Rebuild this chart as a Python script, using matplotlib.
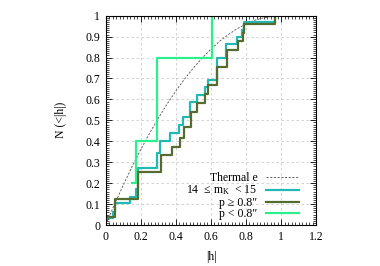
import matplotlib
matplotlib.use("Agg")
import matplotlib.pyplot as plt
from matplotlib.ticker import MultipleLocator, AutoMinorLocator

plt.rcParams['font.family'] = ['Liberation Serif', 'DejaVu Serif']
plt.rcParams['mathtext.default'] = 'regular'
plt.rcParams['font.size'] = 8.5

# Thermal curve
thermal_x = [0.0, 0.05, 0.1, 0.15, 0.2, 0.25, 0.3, 0.35, 0.4, 0.45, 0.5, 0.55, 0.6, 0.65, 0.7, 0.75, 0.8, 0.85, 0.9, 0.95, 1.0]
thermal_y = [0.0, 0.098, 0.19, 0.278, 0.36, 0.438, 0.51, 0.578, 0.64, 0.698, 0.75, 0.798, 0.84, 0.878, 0.91, 0.938, 0.96, 0.978, 0.99, 0.997, 1.0]

# 14 <= mK < 15 (all)
all_x = [0.0, 0.044, 0.055, 0.139, 0.173, 0.186, 0.29, 0.31, 0.367, 0.42, 0.443, 0.482, 0.52, 0.567, 0.586, 0.634, 0.687, 0.748, 0.777, 0.79, 0.967]
all_y = [0.033, 0.064, 0.104, 0.135, 0.17, 0.274, 0.346, 0.40, 0.44, 0.478, 0.518, 0.59, 0.622, 0.657, 0.694, 0.80, 0.865, 0.90, 0.933, 0.97, 1.0]

# p >= 0.8"
wide_x = [0.0, 0.051, 0.186, 0.314, 0.377, 0.425, 0.449, 0.486, 0.52, 0.567, 0.586, 0.634, 0.691, 0.752, 0.783, 0.79, 0.967]
wide_y = [0.04, 0.123, 0.252, 0.335, 0.375, 0.415, 0.466, 0.542, 0.582, 0.625, 0.67, 0.753, 0.837, 0.877, 0.917, 0.962, 1.0]

# p < 0.8"
close_x = [0.15, 0.171, 0.29, 0.606]
close_y = [0.2, 0.4, 0.8, 1.0]

labels = ["Thermal e", "14  \u2264 m$_K$  < 15", "p \u2265 0.8\u2033", "p < 0.8\u2033"]

fig = plt.figure(figsize=(3.8, 2.66), dpi=100)
ax = fig.add_axes([0.278, 0.154, 0.554, 0.787])

ax.plot(thermal_x, thermal_y, color='#666666', lw=0.7, dashes=(2.2, 1.6), label=labels[0])
ax.plot(all_x, all_y, drawstyle='steps-post', color='#22b8b4', lw=1.6, label=labels[1])
ax.plot(wide_x, wide_y, drawstyle='steps-post', color='#556b2f', lw=1.6, label=labels[2])
ax.plot(close_x, close_y, drawstyle='steps-post', color='#2cf08e', lw=1.6, label=labels[3])

ax.set_xlim(0, 1.2)
ax.set_ylim(0, 1)
ax.xaxis.set_minor_locator(AutoMinorLocator(10))
ax.yaxis.set_minor_locator(AutoMinorLocator(10))
ax.set_xticks([0, 0.2, 0.4, 0.6, 0.8, 1.0, 1.2])
ax.set_xticklabels(['0', '0.2', '0.4', '0.6', '0.8', '1', '1.2'])
ax.set_yticks([i / 10 for i in range(11)])
ax.set_yticklabels(['0', '0.1', '0.2', '0.3', '0.4', '0.5', '0.6', '0.7', '0.8', '0.9', '1'])
ax.xaxis.set_minor_locator(AutoMinorLocator(10))
ax.yaxis.set_minor_locator(AutoMinorLocator(10))
ax.tick_params(which='both', direction='in', top=True, right=True, color='black')
ax.tick_params(which='major', length=4, width=0.6, pad=4)
ax.tick_params(which='minor', length=2, width=0.5)
ax.grid(True, which='major', color='#cccccc', ls=(0, (3, 3)), lw=0.6)
for s in ax.spines.values():
    s.set_linewidth(0.8)

ax.set_xlabel('|h|', labelpad=6)
ax.set_ylabel('N (<|h|)', labelpad=13)

leg = ax.legend(loc='lower right', bbox_to_anchor=(0.943, 0.0), frameon=False,
                markerfirst=False, handlelength=2.8, handletextpad=0.75,
                labelspacing=-0.05, borderaxespad=0.0, fontsize=8.5)

fig.savefig('out.png', dpi=100)
